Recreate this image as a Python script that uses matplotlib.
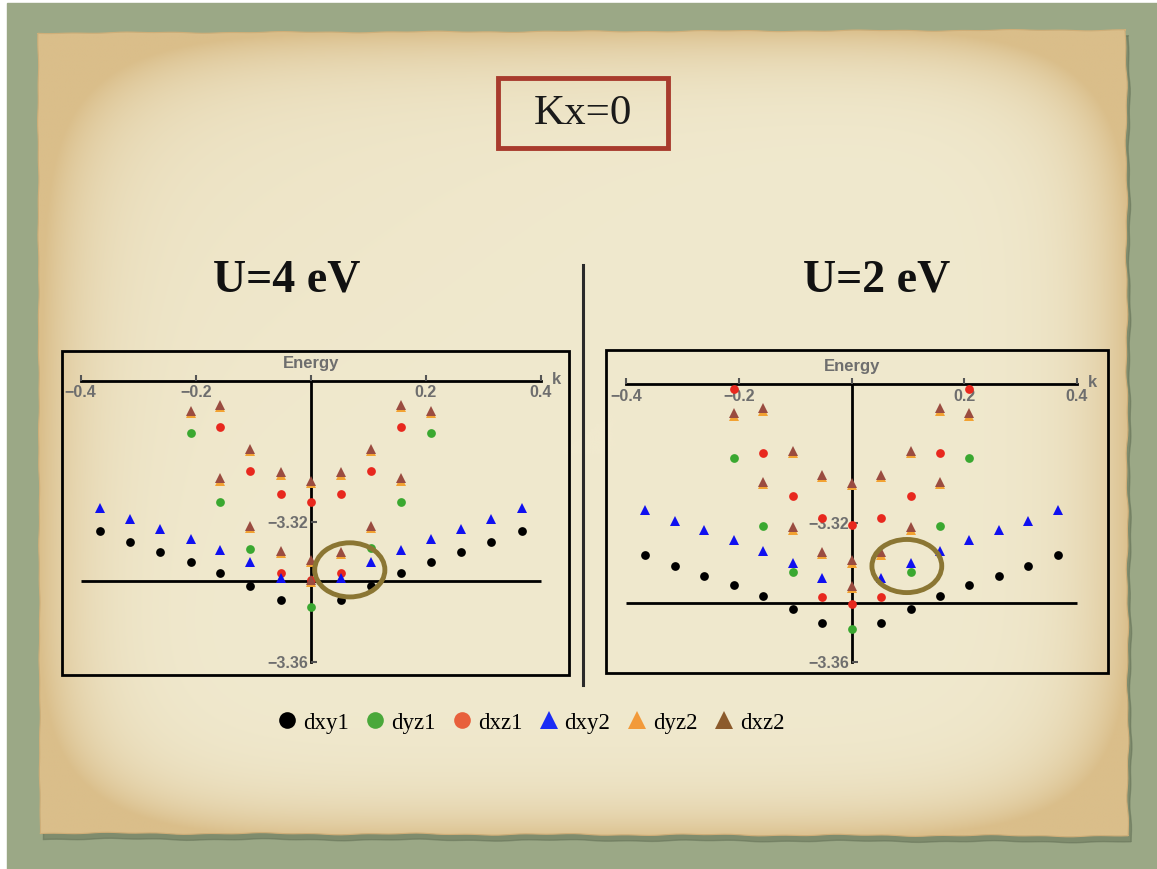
import numpy as np
import matplotlib
matplotlib.use('Agg')
import matplotlib.pyplot as plt
from matplotlib.patches import Rectangle, Ellipse, Polygon
from matplotlib.lines import Line2D

W, H = 1157, 869

# ---- data (k, Energy) ----
K14 = [-0.367, -0.314, -0.262, -0.209, -0.157, -0.105, -0.052,
       0.052, 0.105, 0.157, 0.209, 0.262, 0.314, 0.367]
DYZ1_K = [-0.209, -0.157, -0.105, 0.0, 0.105, 0.157, 0.209]
TRI_K = [-0.209, -0.157, -0.105, -0.157, -0.052, 0.0, 0.052, 0.105, 0.157,
         0.209, 0.157, -0.105, 0.105, -0.052, 0.0, 0.052, 0.0]

# U = 4 eV
U4_DXZ1_K = [-0.157, -0.105, -0.052, 0.0, 0.052, 0.105, 0.157, -0.052, 0.0, 0.052]
U4_DXY1 = [-3.3227, -3.3258, -3.3286, -3.3315, -3.3345, -3.3384, -3.3423,
           -3.3423, -3.3382, -3.3345, -3.3315, -3.3286, -3.3258, -3.3227]
U4_DYZ1 = [-3.2947, -3.3143, -3.3277, -3.3442, -3.3274, -3.3143, -3.2947]
U4_DXZ1 = [-3.2932, -3.3055, -3.3122, -3.3143, -3.3122, -3.3055, -3.2932,
           -3.3345, -3.3366, -3.3345]
U4_DXY2 = [-3.3162, -3.3191, -3.3221, -3.3249, -3.3281, -3.3316, -3.3359,
           -3.3359, -3.3316, -3.3281, -3.3249, -3.3221, -3.3191, -3.3162]
U4_DYZ2 = [-3.2890, -3.2874, -3.2999, -3.3083, -3.3066, -3.3090, -3.3066, -3.2999,
           -3.2874, -3.2890, -3.3083, -3.3217, -3.3217, -3.3288, -3.3315, -3.3291, -3.3372]
U4_DXZ2 = [-3.2884, -3.2868, -3.2993, -3.3077, -3.3060, -3.3084, -3.3060, -3.2993,
           -3.2868, -3.2884, -3.3077, -3.3211, -3.3211, -3.3282, -3.3309, -3.3285, -3.3366]
U4_FERMI = -3.3368

# U = 2 eV
U2_DXZ1_K = [-0.209, -0.157, -0.105, -0.052, 0.0, 0.052, 0.105, 0.157, 0.209,
             -0.052, 0.0, 0.052]
U2_DXY1 = [-3.3291, -3.3322, -3.3351, -3.3379, -3.3410, -3.3447, -3.3488,
           -3.3488, -3.3447, -3.3410, -3.3379, -3.3351, -3.3322, -3.3291]
U2_DYZ1 = [-3.3013, -3.3207, -3.3340, -3.3505, -3.3340, -3.3207, -3.3013]
U2_DXZ1 = [-3.2812, -3.2997, -3.3120, -3.3186, -3.3205, -3.3186, -3.3120, -3.2997,
           -3.2812, -3.3411, -3.3432, -3.3411]
U2_DXY2 = [-3.3162, -3.3192, -3.3220, -3.3249, -3.3280, -3.3315, -3.3357,
           -3.3357, -3.3315, -3.3280, -3.3249, -3.3220, -3.3192, -3.3162]
U2_DYZ2 = [-3.2891, -3.2876, -3.2999, -3.3087, -3.3068, -3.3090, -3.3068, -3.2999,
           -3.2876, -3.2891, -3.3087, -3.3219, -3.3219, -3.3289, -3.3314, -3.3291, -3.3387]
U2_DXZ2 = [-3.2883, -3.2869, -3.2992, -3.3080, -3.3061, -3.3083, -3.3061, -3.2992,
           -3.2869, -3.2883, -3.3080, -3.3212, -3.3212, -3.3282, -3.3307, -3.3284, -3.3380]
U2_FERMI = -3.3430

LEGEND_LABELS = ['dxy1', 'dyz1', 'dxz1', 'dxy2', 'dyz2', 'dxz2']
LEGEND_MARKERS = ['o', 'o', 'o', '^', '^', '^']
LEGEND_COLORS = ['#000000', '#4aa83a', '#e8603c', '#1a2cf5', '#f29a3a', '#8b5a2b']

PLOT_COLORS = {'dxy1': '#000000', 'dyz1': '#3aa830', 'dxz1': '#e8281e',
               'dxy2': '#1010f0', 'dyz2': '#f2a232', 'dxz2': '#9a4c40'}

X_TICKS = [-0.4, -0.2, 0.0, 0.2, 0.4]
X_TICKLABELS = ['\u22120.4', '\u22120.2', '', '0.2', '0.4']
Y_TICKS = [-3.36, -3.32]
Y_TICKLABELS = ['\u22123.36', '\u22123.32']

GRAY = '#6e6e6e'


def fig_rect(x0, y0, x1, y1):
    return [x0 / W, 1 - y1 / H, (x1 - x0) / W, (y1 - y0) / H]


def edge(p0, p1, n, amp, ph):
    t = np.linspace(0, 1, n)
    p0, p1 = np.array(p0, float), np.array(p1, float)
    d = p1 - p0
    nrm = np.array([-d[1], d[0]]) / np.hypot(*d)
    off = amp * (0.6 * np.sin(t * 47 + ph) + 0.4 * np.sin(t * 131 + 2 * ph))
    return p0 + t[:, None] * d + off[:, None] * nrm


fig = plt.figure(figsize=(W / 100, H / 100), dpi=100, facecolor='white')

# ---- slide background ----
bg = fig.add_axes([0, 0, 1, 1])
bg.set_xlim(0, W)
bg.set_ylim(H, 0)
bg.axis('off')
bg.add_patch(Rectangle((7, 3), W, H, color='#9ba886', zorder=0))

pts = np.vstack([edge((38, 33), (1126, 30), 160, 0.8, 0.3),
                 edge((1126, 30), (1128, 836), 140, 1.2, 1.1),
                 edge((1128, 836), (40, 833), 160, 1.0, 2.0),
                 edge((40, 833), (38, 33), 140, 0.6, 0.7)])
bg.add_patch(Polygon(pts + [3, 6], closed=True, color='#5d6a50', alpha=0.45, zorder=1))
paper = Polygon(pts, closed=True, facecolor='none', edgecolor='#cfae78', lw=0.8, zorder=3)
bg.add_patch(paper)

gx, gy = np.meshgrid(np.linspace(-1, 1, 400), np.linspace(-1, 1, 320))
r = (np.abs(gx) ** 6 + np.abs(gy) ** 6) ** (1 / 6)
t = np.clip(r, 0, 1) ** 12
t = t + 0.25 * np.clip(-(gx + gy) / 2, 0, 1) ** 2
t = np.clip(t, 0, 1)
c_in = np.array([240, 233, 206]) / 255
c_out = np.array([218, 190, 138]) / 255
rgb = c_in[None, None, :] * (1 - t[..., None]) + c_out[None, None, :] * t[..., None]
im = bg.imshow(rgb, extent=(36, 1132, 840, 26), aspect='auto', zorder=2,
               interpolation='bilinear')
im.set_clip_path(paper)
bg.set_xlim(0, W)
bg.set_ylim(H, 0)

# title box
bg.add_patch(Rectangle((498, 78), 170, 70, fill=False, edgecolor='#a83b2d', lw=3.5, zorder=4))
bg.text(583, 114, 'Kx=0', ha='center', va='center', fontsize=31,
        family='Liberation Serif', color='#1a1a1a', zorder=5)
bg.text(287, 280, 'U=4 eV', ha='center', va='center', fontsize=33, fontweight='bold',
        family='Liberation Serif', color='#111111', zorder=5)
bg.text(877, 280, 'U=2 eV', ha='center', va='center', fontsize=33, fontweight='bold',
        family='Liberation Serif', color='#111111', zorder=5)
bg.plot([583, 583], [265, 685], color='#2a2a2a', lw=2.2, zorder=5)


def draw_panel(rect, xlim, ylim, series, fermi, ring):
    ax = fig.add_axes(rect, facecolor='none')
    ax.set_xlim(*xlim)
    ax.set_ylim(*ylim)
    ax.add_patch(Rectangle((0, 0), 1, 1, transform=ax.transAxes, fill=False,
                           edgecolor='black', lw=2, clip_on=False))
    for s in ('top', 'right'):
        ax.spines[s].set_visible(False)
    ax.spines['bottom'].set_position(('data', -3.28))
    ax.spines['bottom'].set_bounds(-0.4, 0.4)
    ax.spines['left'].set_position(('data', 0.0))
    ax.spines['left'].set_bounds(-3.36, -3.28)
    for s in ('bottom', 'left'):
        ax.spines[s].set_linewidth(2)
        ax.spines[s].set_zorder(1)
    ax.set_xticks(X_TICKS)
    ax.set_xticklabels(X_TICKLABELS)
    ax.set_yticks(Y_TICKS)
    ax.set_yticklabels(Y_TICKLABELS)
    ax.tick_params(direction='in', length=4, width=1.5, color='#555555',
                   labelcolor=GRAY, labelsize=11.5)
    ax.tick_params(axis='x', pad=3)
    ax.tick_params(axis='y', pad=2)
    for lbl in ax.get_xticklabels() + ax.get_yticklabels():
        lbl.set_fontweight('bold')
        lbl.set_family('Liberation Sans')
    ax.annotate('Energy', xy=(0, -3.28), xytext=(0, 13), textcoords='offset points',
                ha='center', va='center', fontsize=12, fontweight='bold',
                family='Liberation Sans', color=GRAY)
    ax.annotate('k', xy=(0.4, -3.28), xytext=(11, 1), textcoords='offset points',
                ha='center', va='center', fontsize=12, fontweight='bold',
                family='Liberation Sans', color=GRAY)
    ax.hlines(fermi, -0.4, 0.4, color='black', lw=2, zorder=1)
    for k, e, name, mk in series:
        ms = 6.3 if mk == 'o' else 6.8
        ax.plot(k, e, ls='none', marker=mk, ms=ms, color=PLOT_COLORS[name],
                mec=PLOT_COLORS[name], mew=0, zorder=3)
    ax.add_patch(Ellipse(ring[:2], ring[2], ring[3], fill=False,
                         edgecolor='#8b7633', lw=3.5, zorder=4))
    return ax


draw_panel(fig_rect(62, 351, 569, 675), (-0.4325, 0.4492), (-3.3636, -3.27145),
           [(K14, U4_DXY1, 'dxy1', 'o'), (DYZ1_K, U4_DYZ1, 'dyz1', 'o'),
            (U4_DXZ1_K, U4_DXZ1, 'dxz1', 'o'), (K14, U4_DXY2, 'dxy2', '^'),
            (TRI_K, U4_DYZ2, 'dyz2', '^'), (TRI_K, U4_DXZ2, 'dxz2', '^')],
           U4_FERMI, (0.068, -3.3337, 0.122, 0.0154))

draw_panel(fig_rect(606, 350, 1108, 673), (-0.4362, 0.4552), (-3.3631, -3.2701),
           [(K14, U2_DXY1, 'dxy1', 'o'), (DYZ1_K, U2_DYZ1, 'dyz1', 'o'),
            (U2_DXZ1_K, U2_DXZ1, 'dxz1', 'o'), (K14, U2_DXY2, 'dxy2', '^'),
            (TRI_K, U2_DYZ2, 'dyz2', '^'), (TRI_K, U2_DXZ2, 'dxz2', '^')],
           U2_FERMI, (0.098, -3.3323, 0.124, 0.0153))

handles = [Line2D([], [], ls='none', marker=m, ms=12 if m == 'o' else 13,
                  color=c, mec=c, mew=0)
           for m, c in zip(LEGEND_MARKERS, LEGEND_COLORS)]
fig.legend(handles, LEGEND_LABELS, loc='center', bbox_to_anchor=(531 / W, 1 - 723 / H),
           ncol=6, frameon=False, prop={'family': 'Liberation Serif', 'size': 16.5},
           handlelength=0.8, handletextpad=0.3, columnspacing=0.75)

fig.savefig('out.png', dpi=100, facecolor='white')
